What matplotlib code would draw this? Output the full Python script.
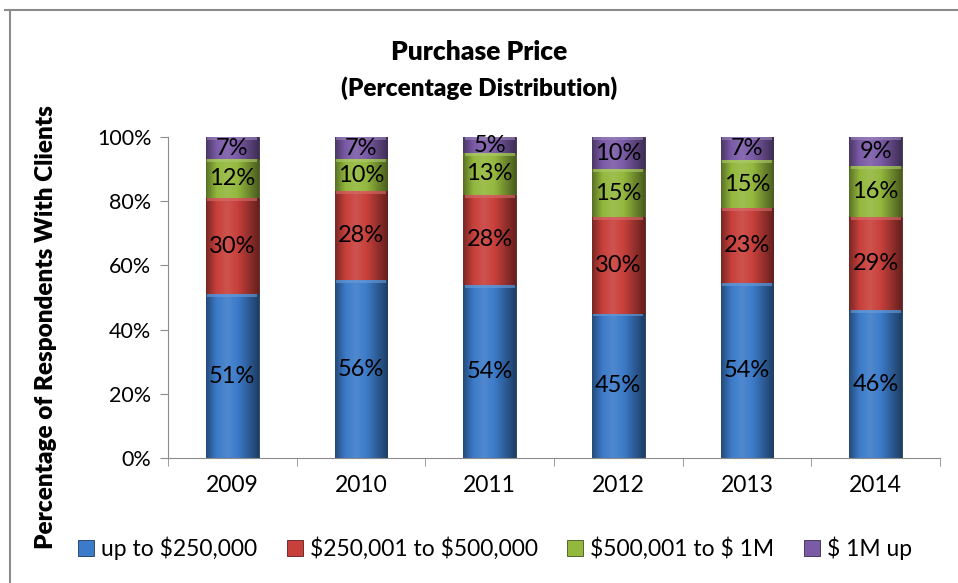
import numpy as np
import matplotlib
matplotlib.use("Agg")
import matplotlib.pyplot as plt
from matplotlib.colors import LinearSegmentedColormap, to_rgb
from matplotlib.patches import Rectangle

years = ["2009", "2010", "2011", "2012", "2013", "2014"]
series_names = ["up to $250,000", "$250,001 to $500,000", "$500,001 to $ 1M", "$ 1M up"]
up_to_250k = [51, 56, 54, 45, 54, 46]
k250_to_500k = [30, 28, 28, 30, 23, 29]
k500_to_1m = [12, 10, 13, 15, 15, 16]
m1_up = [7, 7, 5, 10, 7, 9]
series = [up_to_250k, k250_to_500k, k500_to_1m, m1_up]
colors = ["#3c7bc9", "#c8403b", "#93b83d", "#7b5ba7"]
yticks = [0, 20, 40, 60, 80, 100]

plt.rcParams['font.family'] = ['Lato', 'DejaVu Sans']

fig = plt.figure(figsize=(9.58, 5.83), dpi=100)
ax = fig.add_axes([168/958, 1-458/583, (940-168)/958, (458-137)/583])

# border
fig.add_artist(plt.Line2D([5/958, 1.0], [1-10/583, 1-10/583], color="#8c8c8c", lw=1.5))
fig.add_artist(plt.Line2D([10/958, 10/958], [0, 1-10/583], color="#8c8c8c", lw=1.5))

data = np.array(series, dtype=float)
totals = data.sum(axis=0)
frac = data / totals * 100
x = np.arange(len(years))
width = 0.41

def shade(c, f):
    r = np.array(to_rgb(c))
    if f < 1:
        return tuple(r * f)
    return tuple(r + (1 - r) * (f - 1))

bottom = np.zeros(len(years))
for i, (vals, c) in enumerate(zip(frac, colors)):
    bars = ax.bar(x, vals, width, bottom=bottom, color=c, edgecolor=shade(c, 0.45), lw=0.6,
                  label=series_names[i].replace("$", r"\$"), zorder=2)
    cmap = LinearSegmentedColormap.from_list("g", [shade(c, 0.6), shade(c, 1.0), shade(c, 1.1), shade(c, 1.0), shade(c, 0.75), shade(c, 0.5)])
    grad = np.linspace(0, 1, 256).reshape(1, -1)
    for b, xi, v, bt, lab in zip(bars, x, vals, bottom, series[i]):
        im = ax.imshow(grad, cmap=cmap, aspect="auto", extent=(xi - width/2, xi + width/2, bt, bt + v), zorder=2.5)
        im.set_clip_path(b)
        ax.add_patch(Rectangle((xi - width/2 + 0.01, bt + v - 0.9), width - 0.02, 0.9, facecolor=shade(c, 1.25),
                               edgecolor="none", zorder=2.6, alpha=0.6))
        ax.text(xi, bt + v/2, f"{lab}%", ha="center", va="center", fontsize=17, color="black", zorder=3)
    bottom += vals

ax.set_xlim(-0.5, len(years) - 0.5)
ax.set_ylim(0, 100)
ax.set_yticks(yticks)
ax.set_yticklabels([f"{t}%" for t in yticks], fontsize=15.5)
ax.set_xticks(x)
ax.set_xticklabels(years, fontsize=16.5)
ax.set_xticks(np.arange(len(years) + 1) - 0.5, minor=True)
ax.tick_params(axis="x", which="major", length=0, pad=12)
ax.tick_params(axis="x", which="minor", length=6, color="#8c8c8c")
ax.tick_params(axis="y", length=6, color="#8c8c8c", pad=6)
for s in ["top", "right"]:
    ax.spines[s].set_visible(False)
for s in ["left", "bottom"]:
    ax.spines[s].set_color("#8c8c8c")
ax.set_ylabel("Percentage of Respondents With Clients", fontsize=17.5, fontweight="heavy")
ax.yaxis.set_label_coords((57 - 168) / (940 - 168), (458 - 327) / (458 - 137))

fig.text(0.5, 1 - 52/583, "Purchase Price", ha="center", va="center", fontsize=19, fontweight="heavy")
fig.text(0.5, 1 - 88/583, "(Percentage Distribution)", ha="center", va="center", fontsize=17.5, fontweight="heavy")

leg = fig.legend(loc="center", bbox_to_anchor=(495/958, 1 - 548/583), ncol=4, frameon=False, fontsize=16.5,
                 handlelength=0.7, handleheight=0.7, handletextpad=0.3, columnspacing=1.3)

fig.savefig("out.png", dpi=100)
